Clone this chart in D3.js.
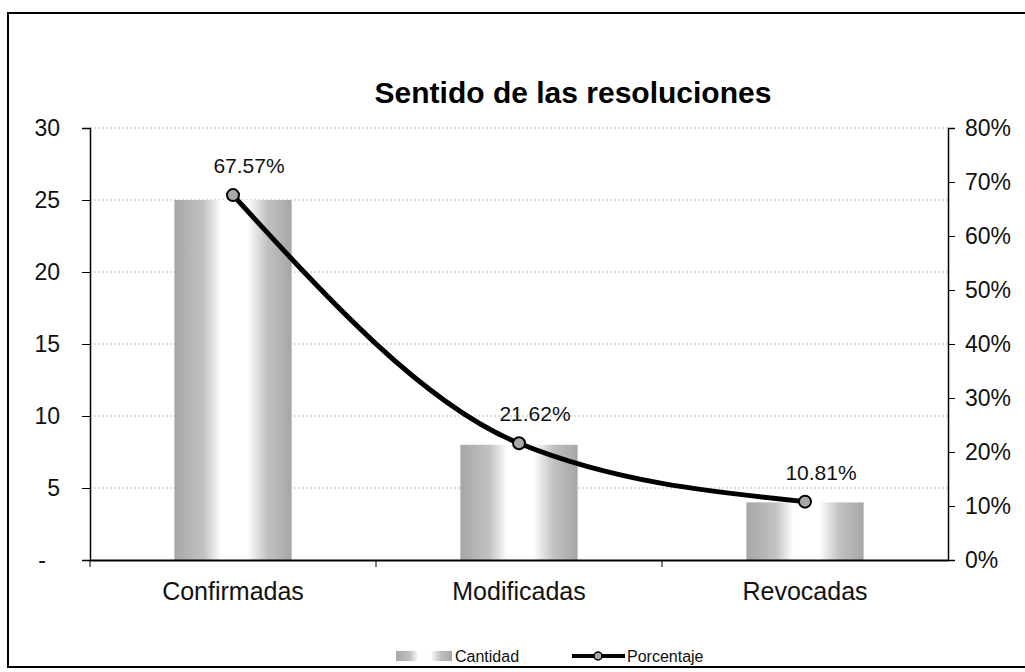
<!DOCTYPE html>
<html>
<head>
<meta charset="utf-8">
<script src="https://cdn.jsdelivr.net/npm/d3@7"></script>
<style>
  body { margin: 0; background: #fff; }
  svg { font-family: "Liberation Sans", Arial, sans-serif; }
</style>
</head>
<body>
<div id="main"></div>
<script>
// chart data
var categories = ["Confirmadas", "Modificadas", "Revocadas"];
var cantidad = [25, 8, 4];
var porcentaje = [67.57, 21.62, 10.81];
var leftTicks = [0, 5, 10, 15, 20, 25, 30];
var rightTicks = [0, 10, 20, 30, 40, 50, 60, 70, 80];
var titleText = "Sentido de las resoluciones";
var legendLabels = ["Cantidad", "Porcentaje"];

var W = 1025, H = 672;
var margin = { top: 128, right: 77, bottom: 112, left: 90 };
var width = W - margin.left - margin.right;
var height = H - margin.top - margin.bottom;

var svg = d3.select("#main")
  .append("svg")
    .attr("width", W)
    .attr("height", H);

// bar gradient (grey edges, white middle)
var grad = svg.append("defs").append("linearGradient")
  .attr("id", "barGrad")
  .attr("x1", "0%").attr("x2", "100%").attr("y1", "0%").attr("y2", "0%");
grad.append("stop").attr("offset", "0%").attr("stop-color", "#a6a6a6");
grad.append("stop").attr("offset", "25%").attr("stop-color", "#c2c2c2");
grad.append("stop").attr("offset", "40%").attr("stop-color", "#ffffff");
grad.append("stop").attr("offset", "62%").attr("stop-color", "#ffffff");
grad.append("stop").attr("offset", "80%").attr("stop-color", "#c0c0c0");
grad.append("stop").attr("offset", "100%").attr("stop-color", "#a6a6a6");

// outer frame
svg.append("path")
  .attr("d", "M1025,13 L8,13 L8,667 L1025,667")
  .attr("fill", "none")
  .attr("stroke", "#000")
  .attr("stroke-width", 2);

svg.append("text")
  .attr("x", 573)
  .attr("y", 103)
  .attr("text-anchor", "middle")
  .attr("font-size", 30)
  .attr("font-weight", "bold")
  .text(titleText);

var g = svg.append("g")
  .attr("transform", "translate(" + margin.left + "," + margin.top + ")");

var x = d3.scaleBand().domain(categories).range([0, width]).paddingInner(0).paddingOuter(0);
var yLeft = d3.scaleLinear().domain([0, 30]).range([height, 0]);
var yRight = d3.scaleLinear().domain([0, 80]).range([height, 0]);

// gridlines
g.selectAll(".grid")
  .data(leftTicks.slice(1))
  .enter().append("line")
    .attr("class", "grid")
    .attr("x1", 0).attr("x2", width)
    .attr("y1", function(d) { return yLeft(d); })
    .attr("y2", function(d) { return yLeft(d); })
    .attr("stroke", "#bdbdbd")
    .attr("stroke-width", 1)
    .attr("stroke-dasharray", "2,2");

// bars
var barW = x.bandwidth() * 0.41;
g.selectAll(".bar")
  .data(cantidad)
  .enter().append("rect")
    .attr("class", "bar")
    .attr("x", function(d, i) { return x(categories[i]) + x.bandwidth() / 2 - barW / 2; })
    .attr("y", function(d) { return yLeft(d); })
    .attr("width", barW)
    .attr("height", function(d) { return height - yLeft(d); })
    .attr("fill", "url(#barGrad)");

// left axis
var leftAxis = d3.axisLeft(yLeft)
  .tickValues(leftTicks)
  .tickSize(8)
  .tickPadding(22)
  .tickFormat(function(d) { return d === 0 ? "-" : d; });
var gl = g.append("g").call(leftAxis);
gl.select(".domain").attr("stroke", "#000").attr("stroke-width", 1.5);
gl.selectAll("text").attr("font-size", 23).attr("fill", "#111")
  .attr("font-family", "Liberation Sans, Arial, sans-serif")
  .attr("dx", function(d) { return d === 0 ? -14 : 0; });

// right axis
var rightAxis = d3.axisRight(yRight)
  .tickValues(rightTicks)
  .tickSize(7)
  .tickPadding(10)
  .tickFormat(function(d) { return d + "%"; });
var gr = g.append("g").attr("transform", "translate(" + width + ",0)").call(rightAxis);
gr.select(".domain").attr("stroke", "#000").attr("stroke-width", 1.5);
gr.selectAll("text").attr("font-size", 23).attr("fill", "#111")
  .attr("font-family", "Liberation Sans, Arial, sans-serif");

// bottom axis
var gb = g.append("g").attr("transform", "translate(0," + height + ")")
  .call(d3.axisBottom(x).tickSize(0).tickPadding(22));
gb.select(".domain").attr("stroke", "#000").attr("stroke-width", 2);
gb.selectAll("text").attr("font-size", 25).attr("fill", "#111")
  .attr("font-family", "Liberation Sans, Arial, sans-serif");
// category boundary ticks
gb.selectAll(".sep")
  .data(categories)
  .enter().append("line")
    .attr("class", "sep")
    .attr("x1", function(d) { return x(d); })
    .attr("x2", function(d) { return x(d); })
    .attr("y1", 0).attr("y2", 7)
    .attr("stroke", "#000");

// percentage line
var line = d3.line()
  .x(function(d, i) { return x(categories[i]) + x.bandwidth() / 2; })
  .y(function(d) { return yRight(d); })
  .curve(d3.curveMonotoneX);

g.append("path")
  .datum(porcentaje)
  .attr("d", line)
  .attr("fill", "none")
  .attr("stroke", "#000")
  .attr("stroke-width", 5);

g.selectAll(".pt")
  .data(porcentaje)
  .enter().append("circle")
    .attr("class", "pt")
    .attr("cx", function(d, i) { return x(categories[i]) + x.bandwidth() / 2; })
    .attr("cy", function(d) { return yRight(d); })
    .attr("r", 6)
    .attr("fill", "#a8a8a8")
    .attr("stroke", "#000")
    .attr("stroke-width", 2);

g.selectAll(".lbl")
  .data(porcentaje)
  .enter().append("text")
    .attr("class", "lbl")
    .attr("x", function(d, i) { return x(categories[i]) + x.bandwidth() / 2 + 16; })
    .attr("y", function(d) { return yRight(d) - 22; })
    .attr("text-anchor", "middle")
    .attr("font-size", 21)
    .attr("fill", "#111")
    .text(function(d) { return d.toFixed(2) + "%"; });

// legend
var lg = svg.append("g");
lg.append("rect")
  .attr("x", 396).attr("y", 651).attr("width", 56).attr("height", 10)
  .attr("fill", "url(#barGrad)");
lg.append("text")
  .attr("x", 455).attr("y", 662)
  .attr("font-size", 16).attr("fill", "#111")
  .text(legendLabels[0]);
lg.append("line")
  .attr("x1", 572).attr("x2", 625).attr("y1", 656).attr("y2", 656)
  .attr("stroke", "#000").attr("stroke-width", 4);
lg.append("circle")
  .attr("cx", 598).attr("cy", 656).attr("r", 4)
  .attr("fill", "#a8a8a8").attr("stroke", "#000").attr("stroke-width", 1.5);
lg.append("text")
  .attr("x", 627).attr("y", 662)
  .attr("font-size", 16).attr("fill", "#111")
  .text(legendLabels[1]);
</script>
</body>
</html>
